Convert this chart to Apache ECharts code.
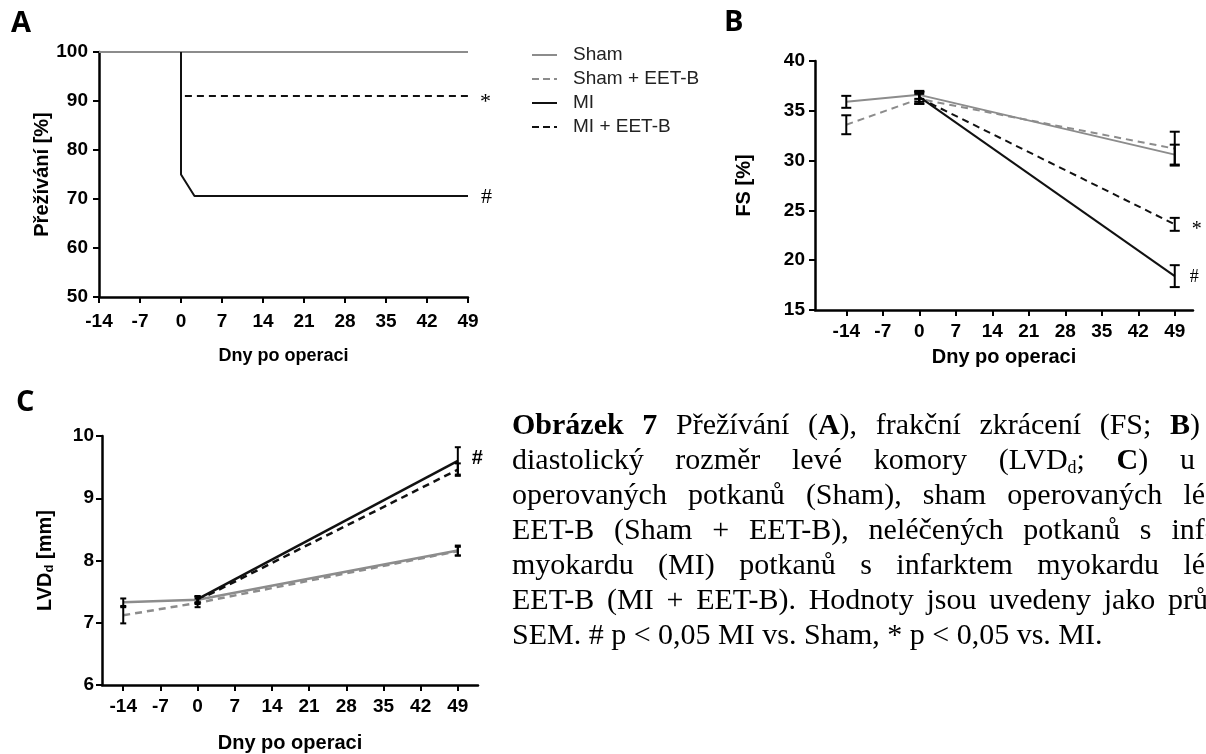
<!DOCTYPE html>
<html>
<head>
<meta charset="utf-8">
<script src="https://cdn.jsdelivr.net/npm/echarts@6/dist/echarts.min.js"></script>
<style>
html, body { margin: 0; padding: 0; background: #fff; }
#main { width: 1206px; height: 754px; }
</style>
</head>
<body>
<div id="main"></div>
<script>
// skupiny a osa dnů
var groups = ['Sham', 'Sham + EET-B', 'MI', 'MI + EET-B'];
var dayTicks = [-14, -7, 0, 7, 14, 21, 28, 35, 42, 49];
var daysAll = [-14, 0, 49];
var daysMI = [0, 49];

// A: přežívání [%] (body křivky)
var survSham = [[-14, 100], [49, 100]];
var survShamEet = [[-14, 100], [49, 100]];
var survMI = [[0, 100], [0, 75], [2.3, 70.6], [49, 70.6]];
var survMIEet = [[0, 100], [0, 91], [49, 91]];

// B: FS [%] průměr a SEM
var fsSham = [35.9, 36.6, 30.6];
var fsShamSem = [0.6, 0.4, 1.0];
var fsShamEet = [33.6, 36.2, 31.2];
var fsShamEetSem = [0.95, 0.5, 1.7];
var fsMI = [36.4, 18.4];
var fsMISem = [0.5, 1.1];
var fsMIEet = [36.3, 23.6];
var fsMIEetSem = [0.6, 0.65];

// C: LVDd [mm] průměr a SEM
var lvSham = [7.33, 7.37, 8.16];
var lvShamSem = [0.06, 0.05, 0.08];
var lvShamEet = [7.12, 7.32, 8.15];
var lvShamEetSem = [0.13, 0.07, 0.07];
var lvMI = [7.38, 9.60];
var lvMISem = [0.05, 0.22];
var lvMIEet = [7.36, 9.46];
var lvMIEetSem = [0.06, 0.10];

// popisek obrázku (^ = tučně, ~ = dolní index)
var captionLines = [
    '^Obrázek 7^ Přežívání (^A^), frakční zkrácení (FS; ^B^) a',
    'diastolický rozměr levé komory (LVD~d~; ^C^) u sham',
    'operovaných potkanů (Sham), sham operovaných léčených',
    'EET-B (Sham + EET-B), neléčených potkanů s infarktem',
    'myokardu (MI) potkanů s infarktem myokardu léčených',
    'EET-B (MI + EET-B). Hodnoty jsou uvedeny jako průměr ±',
    'SEM. # p < 0,05 MI vs. Sham, * p < 0,05 vs. MI.'
];

var GRAY = '#8c8c8c';
var BLACK = '#111';
var SANS = 'Liberation Sans';
var SERIF = 'Liberation Serif';

function pairs(xs, ys) {
    return xs.map(function (x, i) { return [x, ys[i]]; });
}
function bars(xs, ys, sem) {
    return xs.map(function (x, i) { return [x, ys[i] - sem[i], ys[i] + sem[i]]; });
}

//čára skupiny
function lineSeries(name, gi, data, color, dashed, width, mark) {
    var s = {
        name: name,
        type: 'line',
        xAxisIndex: gi,
        yAxisIndex: gi,
        data: data,
        symbol: 'none',
        animation: false,
        z: dashed ? 3 : 4,
        lineStyle: { color: color, width: width, type: dashed ? [7, 5] : 'solid' },
        itemStyle: { color: color }
    };
    if (mark) {
        s.endLabel = {
            show: true,
            formatter: mark.text,
            distance: mark.dist,
            offset: mark.offset || [0, 0],
            fontFamily: mark.font,
            fontWeight: mark.weight || 'normal',
            fontSize: mark.size,
            color: '#000'
        };
    }
    return s;
}

//chybové úsečky (SEM)
function errSeries(gi, data, capW, lw) {
    return {
        type: 'custom',
        xAxisIndex: gi,
        yAxisIndex: gi,
        data: data,
        z: 6,
        animation: false,
        encode: { x: 0, y: [1, 2] },
        renderItem: function (params, api) {
            var lo = api.coord([api.value(0), api.value(1)]);
            var hi = api.coord([api.value(0), api.value(2)]);
            var st = { stroke: '#000', lineWidth: lw };
            return {
                type: 'group',
                children: [
                    { type: 'line', shape: { x1: lo[0], y1: lo[1], x2: hi[0], y2: hi[1] }, style: st },
                    { type: 'line', shape: { x1: lo[0] - capW, y1: lo[1], x2: lo[0] + capW, y2: lo[1] }, style: st },
                    { type: 'line', shape: { x1: hi[0] - capW, y1: hi[1], x2: hi[0] + capW, y2: hi[1] }, style: st }
                ]
            };
        }
    };
}

function xAxis(gi, min, max, custom, labelMargin, nameSize, nameGap) {
    var ax = {
        type: 'value',
        gridIndex: gi,
        min: min,
        max: max,
        interval: 7,
        name: 'Dny po operaci',
        nameLocation: 'middle',
        nameGap: nameGap,
        nameTextStyle: { fontFamily: SANS, fontWeight: 'bold', fontSize: nameSize, color: '#000' },
        splitLine: { show: false },
        axisLine: { onZero: false, lineStyle: { color: '#000', width: 2.5 } },
        axisTick: { show: true, length: 6, lineStyle: { color: '#000', width: 2 } },
        axisLabel: { fontFamily: SANS, fontWeight: 'bold', fontSize: 19, color: '#000', margin: labelMargin, showMinLabel: true, showMaxLabel: true }
    };
    if (custom) {
        ax.axisTick.customValues = dayTicks;
        ax.axisLabel.customValues = dayTicks;
    }
    return ax;
}

function yAxis(gi, min, max, interval, name, nameGap, labelMargin, rich) {
    var ax = {
        type: 'value',
        gridIndex: gi,
        min: min,
        max: max,
        interval: interval,
        name: name,
        nameLocation: 'middle',
        nameGap: nameGap,
        nameTextStyle: { fontFamily: SANS, fontWeight: 'bold', fontSize: 20, color: '#000' },
        splitLine: { show: false },
        axisLine: { onZero: false, lineStyle: { color: '#000', width: 2.5 } },
        axisTick: { show: true, length: 6, lineStyle: { color: '#000', width: 2 } },
        axisLabel: { fontFamily: SANS, fontWeight: 'bold', fontSize: 19, color: '#000', margin: labelMargin }
    };
    if (rich) ax.nameTextStyle.rich = rich;
    return ax;
}

//popisek, zarovnaný do bloku (pravý okraj je mimo obrázek)
function captionGraphics() {
    var left = 512, top = 426, pitch = 35, size = 30, subSize = 18;
    var rights = [1232, 1290, 1290, 1288, 1290, 1284];
    var ctx = document.createElement('canvas').getContext('2d');
    var out = [];
    function fontOf(seg) {
        return (seg.b ? 'bold ' : '') + (seg.s ? subSize : size) + 'px "' + SERIF + '"';
    }
    captionLines.forEach(function (line, li) {
        var words = [], cur = [], bold = false, sub = false, buf = '';
        function flushSeg() {
            if (buf) cur.push({ t: buf, b: bold, s: sub });
            buf = '';
        }
        for (var i = 0; i < line.length; i++) {
            var c = line[i];
            if (c === '^') { flushSeg(); bold = !bold; }
            else if (c === '~') { flushSeg(); sub = !sub; }
            else if (c === ' ') { flushSeg(); if (cur.length) words.push(cur); cur = []; }
            else buf += c;
        }
        flushSeg();
        if (cur.length) words.push(cur);
        var total = 0;
        words.forEach(function (w) {
            w.forEach(function (seg) {
                ctx.font = fontOf(seg);
                seg.w = ctx.measureText(seg.t).width;
                total += seg.w;
            });
        });
        ctx.font = size + 'px "' + SERIF + '"';
        var gap = ctx.measureText(' ').width;
        if (li < rights.length) gap = (rights[li] - left - total) / (words.length - 1);
        var x = left, y = top + li * pitch;
        words.forEach(function (w) {
            w.forEach(function (seg) {
                out.push({
                    type: 'text',
                    x: x,
                    y: y + (seg.s ? 7 : 0),
                    silent: true,
                    style: { text: seg.t, font: fontOf(seg), fill: '#000', verticalAlign: 'middle' }
                });
                x += seg.w;
            });
            x += gap;
        });
    });
    return out;
}

function panelLetter(t, x, y) {
    return { type: 'text', x: x, y: y, silent: true,
        style: { text: t, font: 'bold 29px "Open Sans"', fill: '#000', verticalAlign: 'middle' } };
}

var solidIcon = 'path://M0,0h25v2h-25z';
var dashIcon = 'path://M0,0h7v2h-7zM11,0h7v2h-7zM22,0h3v2h-3z';

var chart = echarts.init(document.getElementById('main'), null, { renderer: 'canvas' });

var option = {
    backgroundColor: '#fff',
    animation: false,
    legend: {
        data: [
            { name: groups[0], icon: solidIcon },
            { name: groups[1], icon: dashIcon },
            { name: groups[2], icon: solidIcon },
            { name: groups[3], icon: dashIcon }
        ],
        orient: 'vertical',
        left: 527,
        top: 39,
        itemWidth: 25,
        itemHeight: 14,
        itemGap: 2,
        selectedMode: false,
        textStyle: { fontFamily: SANS, fontSize: 19, lineHeight: 22, color: '#222', padding: [0, 0, 0, 11] }
    },
    grid: [
        { left: 99, top: 52, width: 369, height: 245 },
        { left: 815, top: 61, width: 378, height: 249 },
        { left: 102, top: 436, width: 376, height: 249 }
    ],
    xAxis: [
        xAxis(0, -14, 49, false, 15, 18, 50),
        xAxis(1, -20, 52.5, true, 12, 20, 37),
        xAxis(2, -18, 52.8, true, 12, 20, 48)
    ],
    yAxis: [
        yAxis(0, 50, 100, 10, 'Přežívání [%]', 47, 11),
        yAxis(1, 15, 40, 5, 'FS [%]', 61, 10),
        yAxis(2, 6, 10, 1, '{a|LVD}{s|d}{a| [mm]}', 46, 8, {
            a: { fontFamily: SANS, fontWeight: 'bold', fontSize: 20, color: '#000' },
            s: { fontFamily: SANS, fontWeight: 'bold', fontSize: 13, color: '#000', padding: [9, 0, 0, 0] }
        })
    ],
    graphic: [
        panelLetter('A', 11, 24),
        panelLetter('B', 724, 23),
        panelLetter('C', 16, 403)
    ].concat(captionGraphics()),
    series: [
        // A
        lineSeries(groups[1], 0, survShamEet, GRAY, true, 2),
        lineSeries(groups[0], 0, survSham, GRAY, false, 2),
        lineSeries(groups[3], 0, survMIEet, BLACK, true, 2,
            { text: '*', dist: 12, offset: [0, 6], font: SERIF, size: 22 }),
        lineSeries(groups[2], 0, survMI, BLACK, false, 2,
            { text: '#', dist: 13, offset: [0, 1], font: SERIF, size: 22 }),
        // B
        lineSeries(groups[1], 1, pairs(daysAll, fsShamEet), GRAY, true, 2),
        lineSeries(groups[0], 1, pairs(daysAll, fsSham), GRAY, false, 2),
        lineSeries(groups[3], 1, pairs(daysMI, fsMIEet), BLACK, true, 2,
            { text: '*', dist: 17, offset: [0, 5], font: SERIF, size: 20 }),
        lineSeries(groups[2], 1, pairs(daysMI, fsMI), BLACK, false, 2,
            { text: '#', dist: 15, offset: [0, 1], font: SERIF, size: 18 }),
        errSeries(1, bars(daysAll, fsSham, fsShamSem), 5, 2),
        errSeries(1, bars(daysAll, fsShamEet, fsShamEetSem), 5, 2),
        errSeries(1, bars(daysMI, fsMI, fsMISem), 5, 2),
        errSeries(1, bars(daysMI, fsMIEet, fsMIEetSem), 5, 2),
        // C
        lineSeries(groups[1], 2, pairs(daysAll, lvShamEet), GRAY, true, 2.5),
        lineSeries(groups[0], 2, pairs(daysAll, lvSham), GRAY, false, 2.5),
        lineSeries(groups[3], 2, pairs(daysMI, lvMIEet), BLACK, true, 2.5),
        lineSeries(groups[2], 2, pairs(daysMI, lvMI), BLACK, false, 2.5,
            { text: '#', dist: 14, offset: [0, -2], font: SANS, weight: 'bold', size: 20 }),
        errSeries(2, bars(daysAll, lvSham, lvShamSem), 3, 2),
        errSeries(2, bars(daysAll, lvShamEet, lvShamEetSem), 3, 2),
        errSeries(2, bars(daysMI, lvMI, lvMISem), 3, 2),
        errSeries(2, bars(daysMI, lvMIEet, lvMIEetSem), 3, 2)
    ]
};

chart.setOption(option);
</script>
</body>
</html>
